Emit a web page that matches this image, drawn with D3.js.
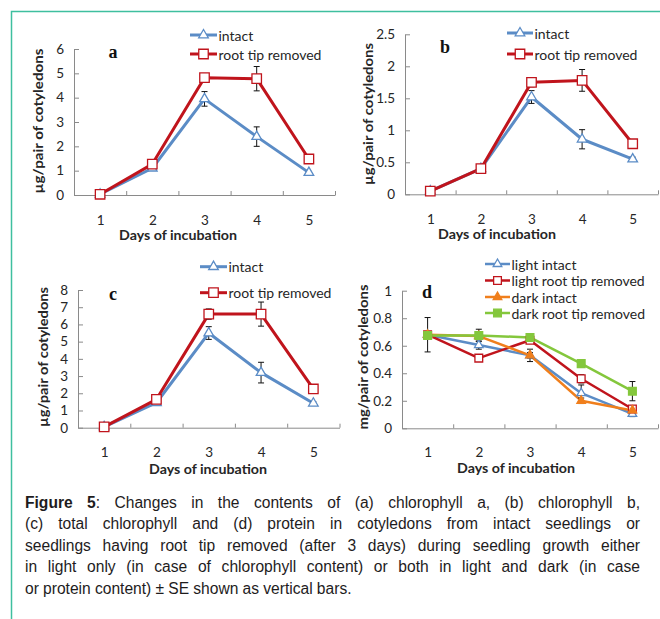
<!DOCTYPE html>
<html><head><meta charset="utf-8">
<script src="https://cdn.jsdelivr.net/npm/d3@7"></script>
<style>
html,body{margin:0;padding:0;background:#fff;}
svg{display:block;}
</style></head>
<body>
<svg id="fig" width="660" height="619"></svg>
<script>
// ---------------- DATA ----------------
const days = [1, 2, 3, 4, 5];

// (a) chlorophyll a, µg/pair of cotyledons
const aIntact      = [0.03, 1.10, 3.95, 2.40, 0.92];
const aIntactErr   = [0, 0.05, 0.30, 0.40, 0.05];
const aRemoved     = [0.03, 1.27, 4.82, 4.78, 1.48];
const aRemovedErr  = [0, 0.05, 0.17, 0.50, 0.05];

// (b) chlorophyll b
const bIntact      = [0.05, 0.40, 1.52, 0.86, 0.55];
const bIntactErr   = [0, 0.02, 0.10, 0.15, 0.03];
const bRemoved     = [0.05, 0.40, 1.75, 1.78, 0.79];
const bRemovedErr  = [0, 0.02, 0.07, 0.17, 0.03];

// (c) total chlorophyll
const cIntact      = [0.05, 1.45, 5.50, 3.20, 1.42];
const cIntactErr   = [0, 0.05, 0.37, 0.60, 0.08];
const cRemoved     = [0.05, 1.65, 6.60, 6.60, 2.25];
const cRemovedErr  = [0, 0.05, 0.30, 0.70, 0.08];

// (d) protein, mg/pair of cotyledons
const dLightIntact     = [0.68, 0.605, 0.53, 0.255, 0.105];
const dLightIntactErr  = [0.125, 0.03, 0.045, 0.06, 0.02];
const dLightRemoved    = [0.68, 0.51, 0.64, 0.36, 0.14];
const dLightRemovedErr = [0, 0.02, 0.02, 0.03, 0.02];
const dDarkIntact      = [0.68, 0.67, 0.53, 0.20, 0.13];
const dDarkIntactErr   = [0, 0.02, 0.02, 0.02, 0.02];
const dDarkRemoved     = [0.675, 0.675, 0.66, 0.47, 0.27];
const dDarkRemovedErr  = [0, 0.045, 0.02, 0.02, 0.07];

const aTicks = [0, 1, 2, 3, 4, 5, 6];
const bTicks = [0, 0.5, 1, 1.5, 2, 2.5];
const cTicks = [0, 1, 2, 3, 4, 5, 6, 7, 8];
const dTicks = [0, 0.2, 0.4, 0.6, 0.8, 1];

const legendAC = ["intact", "root tip removed"];
const legendD  = ["light intact", "light root tip removed", "dark intact", "dark root tip removed"];

const xTitle = "Days of incubation";
const yTitleChl = "µg/pair of cotyledons";
const yTitleProt = "mg/pair of cotyledons";

const captionLines = [
  "Figure 5: Changes in the contents of (a) chlorophyll a, (b) chlorophyll b,",
  "(c) total chlorophyll and (d) protein in cotyledons from intact seedlings or",
  "seedlings having root tip removed (after 3 days) during seedling growth either",
  "in light only (in case of chlorophyll content) or both in light and dark (in case",
  "or protein content) ± SE shown as vertical bars."
];

// ---------------- STYLE ----------------
const BLUE = "#5b8cc6", RED = "#c0141c", ORANGE = "#f07f1c", GREEN = "#84c73c";
const AXIS = "#8a8a8a", TXT = "#262626";
const FONT = "Lato, 'Open Sans', sans-serif";

const svg = d3.select("#fig");

// border
svg.append("path").attr("d", "M11.5,619 L11.5,11.5 L660,11.5")
  .attr("fill", "none").attr("stroke", "#3fbf9f").attr("stroke-width", 1.5);

function panel(cfg) {
  const g = svg.append("g");
  const x = d3.scaleLinear().domain([0.5, 5.5]).range([cfg.x0, cfg.x1]);
  const y = d3.scaleLinear().domain([0, cfg.ymax]).range([cfg.yb, cfg.yt]);

  const ya = g.append("g").attr("transform", `translate(${cfg.x0},0)`)
    .call(d3.axisLeft(y).tickValues(cfg.ticks).tickSizeInner(-5).tickSizeOuter(0).tickPadding(10)
      .tickFormat(d3.format("~g")));
  const xa = g.append("g").attr("transform", `translate(0,${cfg.yb})`)
    .call(d3.axisBottom(x).tickValues([0.5, 1.5, 2.5, 3.5, 4.5, 5.5]).tickSizeInner(-4).tickSizeOuter(0).tickFormat(""));
  const xl = g.append("g").attr("transform", `translate(0,${cfg.yb})`)
    .call(d3.axisBottom(x).tickValues(days).tickSize(0).tickPadding(cfg.xpad).tickFormat(d3.format("d")));
  xl.select(".domain").remove();
  [ya, xa, xl].forEach(a => {
    a.selectAll(".domain,line").attr("stroke", AXIS).attr("stroke-width", 1);
    a.selectAll("text").attr("font-family", FONT).attr("font-size", 13.5).attr("fill", TXT);
  });

  g.append("text").attr("x", cfg.xtx).attr("y", cfg.xty).attr("text-anchor", "middle")
    .attr("dominant-baseline", "central")
    .attr("font-family", FONT).attr("font-weight", "bold").attr("font-size", 13).attr("fill", TXT)
    .attr("textLength", 118).attr("lengthAdjust", "spacingAndGlyphs").text(xTitle);
  g.append("text").attr("transform", `translate(${cfg.ytx},${cfg.yty}) rotate(-90)`)
    .attr("text-anchor", "middle").attr("dominant-baseline", "central")
    .attr("font-family", FONT).attr("font-weight", "bold").attr("font-size", 13).attr("fill", TXT)
    .attr("textLength", cfg.ytl).attr("lengthAdjust", "spacingAndGlyphs").text(cfg.ytitle);
  g.append("text").attr("x", cfg.lx).attr("y", cfg.ly).attr("text-anchor", "middle")
    .attr("dominant-baseline", "central")
    .attr("font-family", "'Liberation Serif', 'DejaVu Serif', serif").attr("font-weight", "bold")
    .attr("font-size", 18).attr("fill", "#111").text(cfg.letter);

  const line = d3.line().x((d, i) => x(days[i])).y(d => y(d));
  cfg.series.forEach(s => {
    const sg = g.append("g");
    sg.append("path").datum(s.values).attr("d", line).attr("fill", "none")
      .attr("stroke", s.color).attr("stroke-width", cfg.lw).attr("stroke-linejoin", "round");
    s.values.forEach((v, i) => {
      const e = s.err[i];
      if (!e) return;
      const cx = x(days[i]);
      const eg = sg.append("g").attr("stroke", "#111").attr("stroke-width", 1);
      eg.append("line").attr("x1", cx).attr("x2", cx).attr("y1", y(v - e)).attr("y2", y(v + e));
      eg.append("line").attr("x1", cx - 3).attr("x2", cx + 3).attr("y1", y(v - e)).attr("y2", y(v - e));
      eg.append("line").attr("x1", cx - 3).attr("x2", cx + 3).attr("y1", y(v + e)).attr("y2", y(v + e));
    });
  });
  cfg.series.forEach(s => {
    g.append("g").selectAll("path").data(s.values).join("path")
      .attr("transform", (d, i) => `translate(${x(days[i])},${y(d)})`)
      .attr("d", d3.symbol().type(s.shape).size(s.size))
      .attr("fill", s.fill).attr("stroke", s.color).attr("stroke-width", 1.3);
  });

  cfg.series.forEach((s, i) => {
    const ry = cfg.legY[i];
    g.append("line").attr("x1", cfg.legX0).attr("x2", cfg.legX1).attr("y1", ry).attr("y2", ry)
      .attr("stroke", s.color).attr("stroke-width", cfg.lw);
    g.append("path").attr("transform", `translate(${(cfg.legX0 + cfg.legX1) / 2},${ry})`)
      .attr("d", d3.symbol().type(s.shape).size(s.size))
      .attr("fill", s.fill).attr("stroke", s.color).attr("stroke-width", 1.3);
    g.append("text").attr("x", cfg.legX1 + 1.5).attr("y", ry).attr("dominant-baseline", "central")
      .attr("font-family", FONT).attr("font-size", cfg.legFont).attr("fill", TXT).text(s.name);
  });
}

function acSeries(intact, intactErr, removed, removedErr) {
  return [
    {name: legendAC[0], values: intact, err: intactErr, color: BLUE, fill: "#fff", shape: d3.symbolTriangle, size: 40},
    {name: legendAC[1], values: removed, err: removedErr, color: RED, fill: "#fff", shape: d3.symbolSquare, size: 90}
  ];
}

panel({x0: 74, x1: 335, yt: 49, yb: 195, ymax: 6, ticks: aTicks, xpad: 20,
  xtx: 178, xty: 235, ytx: 38, yty: 121, ytl: 145, ytitle: yTitleChl, lx: 113, ly: 52, letter: "a",
  lw: 3, legX0: 190, legX1: 217, legY: [35, 54], legFont: 14,
  series: acSeries(aIntact, aIntactErr, aRemoved, aRemovedErr)});

panel({x0: 405, x1: 658, yt: 34.3, yb: 194.3, ymax: 2.5, ticks: bTicks, xpad: 20,
  xtx: 497, xty: 234, ytx: 368, yty: 114, ytl: 142, ytitle: yTitleChl, lx: 445, ly: 47, letter: "b",
  lw: 3, legX0: 507, legX1: 533, legY: [33, 54], legFont: 14,
  series: acSeries(bIntact, bIntactErr, bRemoved, bRemovedErr)});

panel({x0: 78, x1: 339.5, yt: 290, yb: 427.7, ymax: 8, ticks: cTicks, xpad: 20,
  xtx: 208, xty: 469, ytx: 43, yty: 357, ytl: 140, ytitle: yTitleChl, lx: 113, ly: 294, letter: "c",
  lw: 3, legX0: 200, legX1: 227, legY: [266.7, 292.7], legFont: 14,
  series: acSeries(cIntact, cIntactErr, cRemoved, cRemovedErr)});

panel({x0: 402, x1: 658, yt: 290.7, yb: 428.3, ymax: 1, ticks: dTicks, xpad: 19,
  xtx: 516, xty: 468, ytx: 363, yty: 357, ytl: 145, ytitle: yTitleProt, lx: 427, ly: 292, letter: "d",
  lw: 2.5, legX0: 485, legX1: 510, legY: [264, 280.5, 297, 313], legFont: 14,
  series: [
    {name: legendD[0], values: dLightIntact, err: dLightIntactErr, color: BLUE, fill: "#fff", shape: d3.symbolTriangle, size: 32},
    {name: legendD[1], values: dLightRemoved, err: dLightRemovedErr, color: RED, fill: "#fff", shape: d3.symbolSquare, size: 60},
    {name: legendD[2], values: dDarkIntact, err: dDarkIntactErr, color: ORANGE, fill: ORANGE, shape: d3.symbolTriangle, size: 32},
    {name: legendD[3], values: dDarkRemoved, err: dDarkRemovedErr, color: GREEN, fill: GREEN, shape: d3.symbolSquare, size: 60}
  ]});

// ---------------- CAPTION (justified) ----------------
const capLeft = 25, capRight = 640, capY0 = 502, capStep = 21.6;
const capG = svg.append("g").attr("font-family", "'Liberation Sans', Arial, sans-serif")
  .attr("font-size", 15.6).attr("fill", "#1e1c1d");
captionLines.forEach((ln, li) => {
  const words = ln.split(" ");
  const yy = capY0 + li * capStep;
  const nodes = words.map((w, wi) => {
    const t = capG.append("text").attr("y", yy).attr("dominant-baseline", "central");
    if (li === 0 && wi === 0) t.append("tspan").attr("font-weight", "bold").text("Figure");
    else if (li === 0 && wi === 1) { t.append("tspan").attr("font-weight", "bold").text("5"); t.append("tspan").text(":"); }
    else t.text(w);
    return t;
  });
  const widths = nodes.map(n => n.node().getComputedTextLength());
  const total = d3.sum(widths);
  const last = li === captionLines.length - 1;
  const gap = last ? 4.2 : (capRight - capLeft - total) / (words.length - 1);
  let cx = capLeft;
  nodes.forEach((n, i) => { n.attr("x", cx); cx += widths[i] + gap; });
});
</script>
</body></html>
